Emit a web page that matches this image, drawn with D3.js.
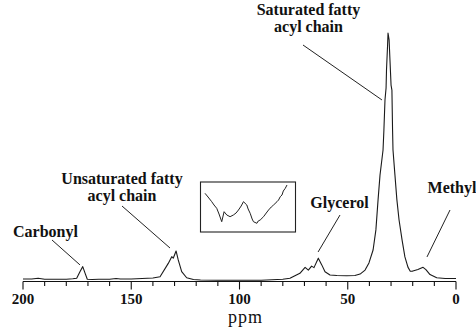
<!DOCTYPE html>
<html>
<head>
<meta charset="utf-8">
<script src="https://cdn.jsdelivr.net/npm/d3@7"></script>
<style>
  body { margin: 0; background: #fff; }
  svg { display: block; font-family: "Liberation Serif", "Times New Roman", serif; }
</style>
</head>
<body>
<svg></svg>
<script>
// spectrum: chemical shift (ppm) and intensity (0-100)
var ppm = [200, 196, 193, 190, 185, 180, 177, 175.2, 173.7, 172.4, 171.3, 170.3, 168, 165, 160, 157, 155, 150, 145, 140,
           136.7, 132.9, 131.3, 130.6, 129.3, 128.3, 126.7, 124.4, 121.3, 118, 110, 100, 90, 85, 80,
           76.7, 72.1, 69.7, 68.2, 66.7, 65.6, 63.6, 62.0, 60.5, 58.2, 55, 50.5, 46.7, 44.3, 42.0, 40.2,
           38.3, 37.0, 36.0, 35.1, 33.7, 33.3, 32.8, 32.3, 32.1, 31.6, 31.4, 30.9, 30.5, 30.0, 29.6,
           29.3, 29.1, 28.2, 27.3, 26.3, 24.9, 23.6, 22.2, 21.2, 20.3, 17.6, 15.2, 13.9, 12.0, 8.9, 5, 0];
var intensity = [0.8, 0.8, 1.1, 0.7, 0.7, 0.7, 0.9, 1.1, 3.75, 5.8, 3.1, 0.7, 0.6, 0.7, 0.7, 1.0, 0.8, 0.8, 1.0, 1.2,
                 1.7, 7.1, 9.8, 9.2, 12.1, 8.5, 3.75, 1.3, 0.6, 0.4, 0.3, 0.3, 0.3, 0.5, 0.7,
                 1.1, 3.1, 5.5, 4.4, 6.0, 5.4, 9.2, 6.5, 3.75, 2.4, 2.2, 2.1, 2.2, 2.8, 4.4, 7.3,
                 12.5, 20.6, 32.7, 42.7, 52.8, 60.9, 73.0, 77.8, 85.1, 95.2, 100, 97.2, 89.1, 79.0, 77.0,
                 60.9, 52.8, 42.7, 32.7, 24.6, 16.5, 9.7, 5.6, 4.0, 3.9, 4.6, 5.5, 4.6, 2.6, 1.3, 1.0, 1.0];

// magnified noise shown in the inset box
var insetT = [0, 3.7, 8.2, 11, 14.3, 17.1, 20.4, 23.3, 26.6, 30.6, 34.6, 37.9, 40.8, 44.1, 46.9, 51, 52.6, 55.1,
              57.5, 59.1, 63.3, 64.9, 67.3, 71.4, 74.7, 77.5, 80.8, 83.6, 87.8, 89.7, 91.8, 93.9, 95.5, 97.9, 100];
var insetV = [38.7, 35, 30.3, 27, 23.7, 18, 10.3, 20.3, 17, 15.3, 17, 19, 22, 26, 30.3, 27, 23, 18.7,
              13, 10.3, 8.7, 11, 12, 15.3, 19, 22, 25, 27, 30.3, 32, 35.3, 37, 41, 43.7, 47];

var xTicks = [200, 150, 100, 50, 0];
var labels = ["Saturated fatty|acyl chain", "Unsaturated fatty|acyl chain", "Carbonyl", "Glycerol", "Methyl"];
var labelPeakPpm = [34.2, 132.1, 173.7, 63.7, 13.4];
var labelPeakInt = [73, 13.3, 6.5, 11.7, 9.7];

var width = 476, height = 330;
var svg = d3.select("svg").attr("width", width).attr("height", height);

//scales
var x = d3.scaleLinear().domain([200, 0]).range([23, 456]);
var y = d3.scaleLinear().domain([0, 100]).range([281, 33]);

//axis
var axisY = 281.5;
svg.append("line")
   .attr("x1", x(200)).attr("x2", x(0))
   .attr("y1", axisY).attr("y2", axisY)
   .attr("stroke", "#111").attr("stroke-width", 1.2);

var minor = d3.range(0, 201, 10);
svg.selectAll(".tick")
   .data(minor)
   .enter()
   .append("line")
   .attr("x1", function(d){return x(d)})
   .attr("x2", function(d){return x(d)})
   .attr("y1", axisY)
   .attr("y2", function(d){return xTicks.indexOf(d) >= 0 ? axisY + 8 : axisY + 4.5})
   .attr("stroke", "#111").attr("stroke-width", 1.1);

svg.selectAll(".tlabel")
   .data(xTicks)
   .enter()
   .append("text")
   .attr("x", function(d){return x(d)})
   .attr("y", 304)
   .attr("text-anchor", "middle")
   .attr("font-size", 15)
   .attr("font-weight", "bold")
   .attr("fill", "#111")
   .text(function(d){return d});

svg.append("text")
   .attr("x", x(100) + 6)
   .attr("y", 323)
   .attr("text-anchor", "middle")
   .attr("font-size", 18)
   .attr("letter-spacing", 1)
   .attr("fill", "#111")
   .text("ppm");

//spectrum
var pts = ppm.map(function(d, i){return [d, intensity[i]]});
var line = d3.line()
             .x(function(d){return x(d[0])})
             .y(function(d){return y(d[1])});
svg.append("path")
   .datum(pts)
   .attr("d", line)
   .attr("fill", "none")
   .attr("stroke", "#1a1a1a")
   .attr("stroke-width", 1.1)
   .attr("stroke-linejoin", "round");

//inset
svg.append("rect")
   .attr("x", 200.5).attr("y", 182)
   .attr("width", 95).attr("height", 50)
   .attr("fill", "none").attr("stroke", "#222").attr("stroke-width", 1.1);
var ix = d3.scaleLinear().domain([0, 100]).range([205, 287]);
var iy = d3.scaleLinear().domain([0, 50]).range([232, 182]);
svg.append("path")
   .datum(insetT.map(function(d, i){return [d, insetV[i]]}))
   .attr("d", d3.line().x(function(d){return ix(d[0])}).y(function(d){return iy(d[1])}))
   .attr("fill", "none").attr("stroke", "#222").attr("stroke-width", 1);

//labels and leader lines
var labelPos = [[308.5, 15, 303, 45], [122, 184, 122, 206], [45.5, 237, 52, 240], [339.5, 208, 340, 215], [452, 193, 450, 210]];
labels.forEach(function(t, i){
  var parts = t.split("|");
  var p = labelPos[i];
  var txt = svg.append("text")
               .attr("text-anchor", "middle")
               .attr("font-size", 16)
               .attr("font-weight", "bold")
               .attr("fill", "#111");
  parts.forEach(function(s, j){
    txt.append("tspan").attr("x", p[0]).attr("y", p[1] + j * 17).text(s);
  });
  svg.append("line")
     .attr("x1", p[2]).attr("y1", p[3])
     .attr("x2", x(labelPeakPpm[i])).attr("y2", y(labelPeakInt[i]))
     .attr("stroke", "#222").attr("stroke-width", 1);
});
</script>
</body>
</html>
